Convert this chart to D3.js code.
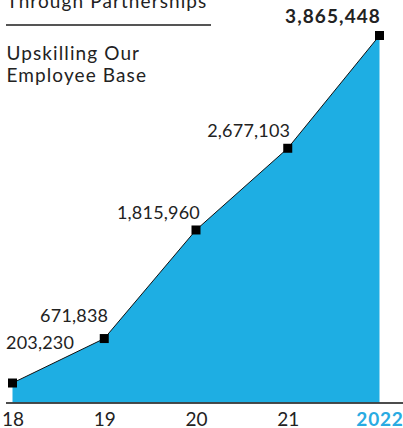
<!DOCTYPE html>
<html>
<head>
<meta charset="utf-8">
<script src="https://cdn.jsdelivr.net/npm/d3@7"></script>
<style>
  html, body { margin: 0; padding: 0; background: #fff; }
  svg { display: block; font-family: Lato, "Open Sans", sans-serif; }
</style>
</head>
<body>
<svg id="chart" width="403" height="428"></svg>
<script>
// Employees upskilled, by year
const years = ["18", "19", "20", "21", "2022"];
const employees = [203230, 671838, 1815960, 2677103, 3865448];
const valueLabels = ["203,230", "671,838", "1,815,960", "2,677,103", "3,865,448"];

const svg = d3.select("#chart");
const W = 403;
const baseY = 403;

const x = d3.scalePoint().domain(years).range([12.5, 379.5]);
const y = d3.scaleLinear().domain([0, 3865448]).range([402.3, 35.5]);

const data = years.map((yr, i) => ({ yr, v: employees[i], label: valueLabels[i] }));

// Header text and rule
const header = [
  { t: "Through Partnerships", y: 7.5 },
  { t: "Upskilling Our", y: 60 },
  { t: "Employee Base", y: 82 }
];
svg.selectAll("text.head").data(header).enter().append("text")
  .attr("class", "head")
  .attr("x", 6.5).attr("y", d => d.y)
  .attr("font-size", 19).attr("letter-spacing", 1.1)
  .attr("fill", "#222").text(d => d.t);
svg.append("line").attr("x1", 6).attr("x2", 211).attr("y1", 25).attr("y2", 25)
  .attr("stroke", "#555").attr("stroke-width", 2);

// Filled area
const area = d3.area().x(d => x(d.yr)).y0(y(0)).y1(d => y(d.v));
svg.append("path").datum(data).attr("d", area).attr("fill", "#1eaee3");

// Outline
const line = d3.line().x(d => x(d.yr)).y(d => y(d.v));
svg.append("path").datum(data).attr("d", line)
  .attr("fill", "none").attr("stroke", "#111").attr("stroke-width", 1);

// Baseline axis
const axis = d3.axisBottom(x).tickSize(0);
const gAxis = svg.append("g").attr("transform", `translate(0,${baseY})`).call(axis);
gAxis.select(".domain").remove();
svg.append("line").attr("x1", 6).attr("x2", W).attr("y1", baseY).attr("y2", baseY)
  .attr("stroke", "#111").attr("stroke-width", 1.5);
gAxis.selectAll(".tick text")
  .attr("y", 23).attr("dy", null)
  .attr("font-family", "Lato, 'Open Sans', sans-serif")
  .attr("font-size", 19)
  .attr("letter-spacing", d => d === "2022" ? 0.8 : 0)
  .attr("fill", d => d === "2022" ? "#29abe2" : "#222")
  .attr("font-weight", d => d === "2022" ? "bold" : "normal");

// Markers
svg.selectAll("rect.marker").data(data).enter().append("rect")
  .attr("class", "marker")
  .attr("x", d => x(d.yr) - 4.5).attr("y", d => y(d.v) - 4.5)
  .attr("width", 9).attr("height", 9).attr("fill", "#000");

// Value labels
const labelPos = [
  { dx: -6.5, dy: -34, anchor: "start" },
  { dx: 4, dy: -16.6, anchor: "end" },
  { dx: 4, dy: -11, anchor: "end" },
  { dx: 2.5, dy: -11.3, anchor: "end" },
  { dx: 1.5, dy: -12.5, anchor: "end" }
];
svg.selectAll("text.val").data(data).enter().append("text")
  .attr("class", "val")
  .attr("x", (d, i) => x(d.yr) + labelPos[i].dx)
  .attr("y", (d, i) => y(d.v) + labelPos[i].dy)
  .attr("text-anchor", (d, i) => labelPos[i].anchor)
  .attr("font-size", (d, i) => i === 4 ? 19 : 18)
  .attr("letter-spacing", (d, i) => i === 4 ? 1.1 : 0.2)
  .attr("font-weight", (d, i) => i === 4 ? "bold" : "normal")
  .attr("fill", "#222")
  .text(d => d.label);
</script>
</body>
</html>
